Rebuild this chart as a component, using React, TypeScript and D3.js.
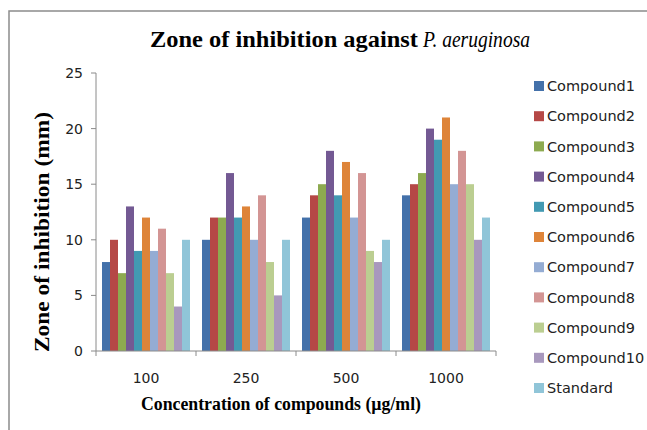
import React from "react";
import * as d3 from "d3";

const categories = ["100", "250", "500", "1000"];
const seriesNames = [
  "Compound1", "Compound2", "Compound3", "Compound4", "Compound5", "Compound6",
  "Compound7", "Compound8", "Compound9", "Compound10", "Standard",
];
const compound1 = [8, 10, 12, 14];
const compound2 = [10, 12, 14, 15];
const compound3 = [7, 12, 15, 16];
const compound4 = [13, 16, 18, 20];
const compound5 = [9, 12, 14, 19];
const compound6 = [12, 13, 17, 21];
const compound7 = [9, 10, 12, 15];
const compound8 = [11, 14, 16, 18];
const compound9 = [7, 8, 9, 15];
const compound10 = [4, 5, 8, 10];
const standard = [10, 10, 10, 12];
const seriesValues = [
  compound1, compound2, compound3, compound4, compound5, compound6,
  compound7, compound8, compound9, compound10, standard,
];
const colors = [
  "#4471AA", "#B54846", "#8DAA50", "#735993", "#4299B2", "#DE8439",
  "#94ACD3", "#D39594", "#BBCE91", "#A898BD", "#90C5D8",
];
const yTicks = [0, 5, 10, 15, 20, 25];

const W = 647;
const H = 430;
const left = 96, right = 496, top = 73, bottom = 351;

export default function App() {
  const x0 = d3.scaleBand<string>().domain(categories).range([left, right]).padding(0);
  const x1 = d3.scaleBand<string>().domain(seriesNames).range([0, x0.bandwidth()]).paddingInner(0).paddingOuter(0.75);
  const y = d3.scaleLinear().domain([0, 25]).range([bottom, top]);
  const axisColor = "#8a8a8a";
  const sans = "DejaVu Sans, sans-serif";
  const serif = "Liberation Serif, Times New Roman, serif";
  const edges = categories.map((c) => x0(c) as number).concat([right]);

  return (
    <svg width={W} height={H} style={{ position: "absolute", left: 0, top: 0, background: "#fff" }}>
      <rect x={9} y={11} width={700} height={500} fill="#fff" stroke="#8c8c8c" strokeWidth={1.5} />
      <text x={150} y={47} textLength={268} lengthAdjust="spacingAndGlyphs" fontFamily={serif} fontWeight="bold" fontSize={24} fill="#000">
        Zone of inhibition against
      </text>
      <text x={423} y={47} textLength={107} lengthAdjust="spacingAndGlyphs" fontFamily={serif} fontStyle="italic" fontSize={24} fill="#000">
        P. aeruginosa
      </text>
      {seriesNames.map((s, si) =>
        categories.map((c, ci) => (
          <rect
            key={s + c}
            x={(x0(c) as number) + (x1(s) as number)}
            y={y(seriesValues[si][ci])}
            width={x1.bandwidth()}
            height={bottom - y(seriesValues[si][ci])}
            fill={colors[si]}
          />
        ))
      )}
      <line x1={left} x2={left} y1={top} y2={bottom} stroke={axisColor} strokeWidth={1} />
      <line x1={left} x2={right} y1={bottom} y2={bottom} stroke={axisColor} strokeWidth={1} />
      {yTicks.map((t) => (
        <g key={t}>
          <line x1={left - 5} x2={left} y1={y(t)} y2={y(t)} stroke={axisColor} />
          <text x={83} y={y(t)} dy="0.35em" textAnchor="end" fontFamily={sans} fontSize={14} fill="#222">{t}</text>
        </g>
      ))}
      {edges.map((e, i) => (
        <line key={i} x1={e} x2={e} y1={bottom} y2={bottom + 5} stroke={axisColor} />
      ))}
      {categories.map((c) => (
        <text key={c} x={(x0(c) as number) + x0.bandwidth() / 2} y={378} dy="0.35em" textAnchor="middle" fontFamily={sans} fontSize={14} fill="#222">{c}</text>
      ))}
      <text x={141} y={410} textLength={280} lengthAdjust="spacingAndGlyphs" fontFamily={serif} fontWeight="bold" fontSize={18} fill="#000">
        Concentration of compounds (µg/ml)
      </text>
      <text transform="translate(49,232) rotate(-90)" textAnchor="middle" textLength={240} lengthAdjust="spacingAndGlyphs" fontFamily={serif} fontWeight="bold" fontSize={20} fill="#000">
        Zone of inhibition (mm)
      </text>
      {seriesNames.map((s, i) => {
        const cy = 86 + i * 30.2;
        return (
          <g key={s}>
            <rect x={534} y={cy - 5} width={10} height={10} fill={colors[i]} />
            <text x={547} y={cy} dy="0.36em" fontFamily={sans} fontSize={14.5} fill="#222">{s}</text>
          </g>
        );
      })}
    </svg>
  );
}
